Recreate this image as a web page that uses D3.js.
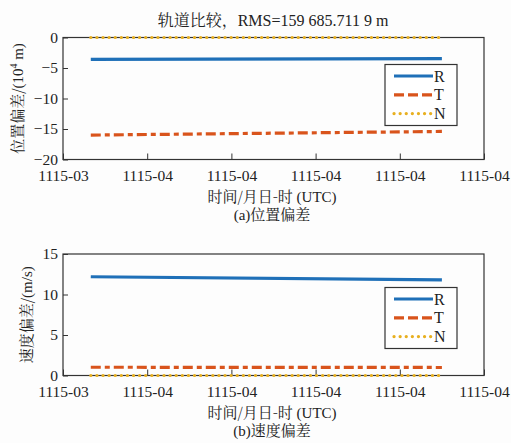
<!DOCTYPE html>
<html>
<head>
<meta charset="utf-8">
<script src="https://cdn.jsdelivr.net/npm/d3@7"></script>
<style>
  html, body { margin: 0; padding: 0; background: #fdfdfd; }
  .zh { font-family: "Noto Serif CJK SC", "Noto Sans CJK SC", serif; }
</style>
</head>
<body>
<svg id="chart" width="511" height="443"></svg>
<script>
// Time axis tick labels (six evenly spaced ticks)
const timeTicks = ["1115-03", "1115-04", "1115-04", "1115-04", "1115-04", "1115-04"];
// Sample times, in tick units
const times = [0.33, 4.5];

// Position deviation (10^4 m)
const posR = [-3.57, -3.47];
const posT = [-16.0, -15.4];
const posN = [0, 0];

// Velocity deviation (m/s)
const velR = [12.19, 11.8];
const velT = [1.02, 0.99];
const velN = [0, 0];

const seriesNames = ["R", "T", "N"];
const colors = {R: "#1f70b8", T: "#d9541c", N: "#e8b020"};
const dashes = {R: null, T: "10,4,5,4", N: "0.1,6"};

const SERIF = '"Liberation Serif", "Times New Roman", serif';

const svg = d3.select("#chart");

// Mixed Chinese/Latin text: Chinese runs get the Song-style face
function mixedText(sel, parts) {
  parts.forEach(([txt, zh, extra]) => {
    const t = sel.append("tspan").text(txt);
    if (zh) t.attr("class", "zh");
    if (extra) extra(t);
  });
  return sel;
}

function panel(opts) {
  const {top, bottom, yDomain, yTicks, series, yTitle, yTitleX, legendTop, caption, title} = opts;
  const left = 63, right = 484;
  const x = d3.scaleLinear().domain([0, 5]).range([left, right]);
  const y = d3.scaleLinear().domain(yDomain).range([bottom, top]);
  const g = svg.append("g");

  // frame
  g.append("rect").attr("x", left).attr("y", top)
    .attr("width", right - left).attr("height", bottom - top)
    .attr("fill", "none").attr("stroke", "#333").attr("stroke-width", 1.2);

  // x axis (ticks inward)
  const xAxis = d3.axisBottom(x).tickValues(d3.range(timeTicks.length))
    .tickFormat((d, i) => timeTicks[i]).tickSize(-6).tickPadding(10);
  const xg = g.append("g").attr("transform", `translate(0,${bottom})`).call(xAxis);
  xg.attr("font-family", SERIF).attr("font-size", 15.5);
  xg.select(".domain").remove();
  xg.selectAll("line").attr("stroke", "#333");
  xg.selectAll("text").attr("fill", "#222");

  // y axis (ticks inward)
  const yAxis = d3.axisLeft(y).tickValues(yTicks).tickFormat(d => d < 0 ? "\u2212" + Math.abs(d) : d)
    .tickSize(-5).tickPadding(5);
  const yg = g.append("g").attr("transform", `translate(${left},0)`).call(yAxis);
  yg.attr("font-family", SERIF).attr("font-size", 15.5);
  yg.select(".domain").remove();
  yg.selectAll("line").attr("stroke", "#333");
  yg.selectAll("text").attr("fill", "#222");

  // series lines
  const line = d3.line().x((d, i) => x(times[i])).y(d => y(d));
  seriesNames.forEach(name => {
    g.append("path").datum(series[name])
      .attr("d", line)
      .attr("fill", "none")
      .attr("stroke", colors[name])
      .attr("stroke-width", 3.2)
      .attr("stroke-linecap", name === "N" ? "round" : "butt")
      .attr("stroke-dasharray", dashes[name]);
  });

  // legend
  const lx = 385, lw = 72, lh = 61;
  const lg = g.append("g").attr("transform", `translate(${lx},${legendTop})`);
  lg.append("rect").attr("width", lw).attr("height", lh)
    .attr("fill", "#fff").attr("stroke", "#333").attr("stroke-width", 1.2);
  seriesNames.forEach((name, i) => {
    const yy = 11.5 + i * 18.8;
    lg.append("line").attr("x1", 9).attr("x2", 48).attr("y1", yy).attr("y2", yy)
      .attr("stroke", colors[name]).attr("stroke-width", 3.2)
      .attr("stroke-linecap", name === "N" ? "round" : "butt")
      .attr("stroke-dasharray", name === "T" ? "10,4" : dashes[name]);
    lg.append("text").attr("x", 49).attr("y", yy + 5.5)
      .attr("font-family", SERIF).attr("fill", "#222")
      .attr("font-size", 16).text(name);
  });

  // axis titles and caption
  const yt = g.append("text").attr("font-family", SERIF).attr("fill", "#222")
    .attr("transform", `translate(${yTitleX},${(top + bottom) / 2}) rotate(-90)`)
    .attr("text-anchor", "middle").attr("font-size", 15);
  mixedText(yt, yTitle);
  const xt = g.append("text").attr("font-family", SERIF).attr("fill", "#222")
    .attr("x", 272).attr("y", bottom + 42)
    .attr("text-anchor", "middle").attr("font-size", 15);
  mixedText(xt, [["时间/月日-时", true], [" (UTC)", false]]);
  const ct = g.append("text").attr("font-family", SERIF).attr("fill", "#222")
    .attr("x", 272).attr("y", bottom + 60)
    .attr("text-anchor", "middle").attr("font-size", 15);
  mixedText(ct, caption);
  if (title) {
    const tt = g.append("text").attr("font-family", SERIF).attr("fill", "#222")
      .attr("x", 273).attr("y", 26)
      .attr("text-anchor", "middle").attr("font-size", 16);
    mixedText(tt, title);
  }
}

panel({
  top: 37.5, bottom: 159.5, yDomain: [-20, 0], yTicks: [-20, -15, -10, -5, 0],
  series: {R: posR, T: posT, N: posN},
  yTitle: [["位置偏差/", true], ["(10", false],
           ["4", false, t => t.attr("dy", -6).attr("font-size", 10)],
           [" m)", false, t => t.attr("dy", 6)]],
  yTitleX: 23, legendTop: 64.5,
  caption: [["(a)", false], ["位置偏差", true]],
  title: [["轨道比较，", true], ["RMS=159 685.711 9 m", false]]
});

panel({
  top: 254, bottom: 375.5, yDomain: [0, 15], yTicks: [0, 5, 10, 15],
  series: {R: velR, T: velT, N: velN},
  yTitle: [["速度偏差/", true], ["(m/s)", false]],
  yTitleX: 32, legendTop: 287.5,
  caption: [["(b)", false], ["速度偏差", true]]
});
</script>
</body>
</html>
